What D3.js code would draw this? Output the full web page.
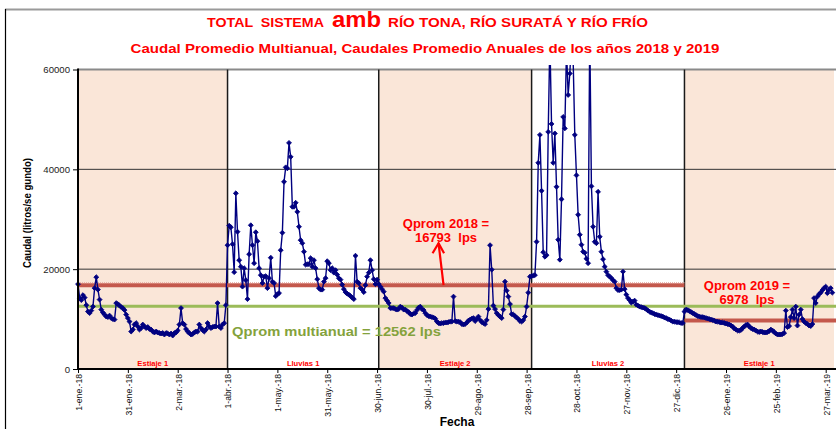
<!DOCTYPE html>
<html><head><meta charset="utf-8">
<script src="https://cdn.jsdelivr.net/npm/d3@7"></script>
<style>
body{margin:0;background:#fff}
svg{display:block}
text{font-family:"Liberation Sans",Arial,sans-serif}
</style>
</head><body>
<svg id="c" width="836" height="429"></svg>
<script>
// ---------------- DATA ----------------
const startDate = "2018-01-01";
const xStart = "2018-01-01", xEnd = "2019-04-01";

// daily flow (litros/segundo), one value per day from 1-ene-18
const estiaje1_2018 = [17000,14200,13800,14800,14300,12800,11500,11200,11700,12500,
16200,18400,15900,13900,11900,11300,10900,10500,10400,10700,
10200,10000,9900,13200,13000,12700,12400,12200,11800,10900,
10200,9500,7500,7900,8900,9200,8500,7900,8200,8900,
8500,8200,8400,8000,7900,7500,7300,7500,7300,7200,
7100,7200,6900,7200,7100,6900,7100,6700,7200,7300,
7700,8900,12200,9200,8900,8000,7500,7200,6900,7000,
7300,7500,7500,8900,8200,7800,7500,7900,9200,8500,
8200,8400,8500,8500,13200,8500,8200,8900,9200,12800];
const lluvias1_2018 = [24800,28700,28400,25000,19400,35200,27500,21800,20500,16500,
20200,17800,14000,23000,28800,24800,21200,27400,25600,20200,
18800,17200,18500,18600,16200,18200,22300,17500,17200,14600,
15000,15200,23800,27300,37500,40400,40200,45300,42500,32500,
32500,33300,31500,28500,25800,25200,23500,20900,21000,21000,
22200,20500,21800,20200,18000,16200,15900,15900,17500,18200,
21600,21200,19800,20200,19300,19800,18900,18200,17900,16900,
16000,15400,15100,14900,14600,14300,14000,22700,17500,17200,
16200,15900,15400,16800,18500,19300,21800,19800,18000,17000];
const estiaje2_2018 = [17900,17000,16500,16000,15500,14200,13700,13200,12200,12200,
12200,12000,11900,12000,12500,12300,11900,11900,11600,11400,
11000,10900,11100,11200,11800,12300,12500,12000,11800,11200,
10800,10600,10500,10400,10300,10100,9500,9200,9100,9200,
9200,9300,9300,9400,9500,9500,14500,9600,9500,9500,
9400,9000,8900,9000,9300,9700,9900,10100,10200,9600,
10000,10500,9800,9400,9200,9000,9800,12000,24800,19900,
12700,12000,11200,10800,10500,10200,11900,17500,15700,14500,
13000,11000,10900,10600,10300,10000,9600,9500,9800,10500,
12500,15300,18500];
const lluvias2_2018 = [18600,18700,18800,25500,41300,46900,35700,
23400,22500,22800,47500,66000,49100,41300,47200,36500,25900,
21900,34000,50500,48200,64000,54900,59200,66000,62000,46900,
38800,30900,26900,24900,23500,23300,22100,21200,68000,36600,
28500,25500,25200,35500,26500,23500,22000,20500,19500,18800,
18500,18200,17800,17500,16200,15800,15800,15900,19500,16000,
14900,14200,13800,13300,13500,13700,12900,12700,12500,12400,
12300,12200,12000,11700,11500,11300,11200,11000,10900,10800,
10700,10600,10500,10300,10200,10000,9900,9700,9500,9500,
9400,9400,9300,9200,9200];
const estiaje1_2019 = [11500,11900,11800,11600,11400,11200,11000,10800,10600,10500,
10400,10400,10300,10200,10100,10000,9900,9800,9700,9500,
9500,9400,9300,9300,9200,9100,9000,8900,8700,8500,
8100,7900,7700,7700,7800,8200,8500,8800,8900,8500,
8200,8000,7900,7700,7500,7400,7500,7400,7300,7300,
7400,7600,7900,7700,7400,7100,6900,6900,6900,7000,
7200,11700,8400,8600,10400,11900,10200,12500,8700,10900,
11900,10000,9500,9200,9000,8700,8600,9000,14200,13200,
14500,15000,15300,15800,16200,16500,15200,15900,16200,15300];

// seasons (bands)
const seasonNames  = ["Estiaje 1","Lluvias 1","Estiaje 2","Lluvias 2","Estiaje 1"];
const seasonStarts = ["2018-01-01","2018-04-01","2018-07-01","2018-10-01","2019-01-01"];
const seasonEnds   = ["2018-04-01","2018-07-01","2018-10-01","2019-01-01","2019-04-01"];
const seasonShaded = [true,false,true,false,true];

// axis ticks
const tickDates = ["2018-01-01","2018-01-31","2018-03-02","2018-04-01","2018-05-01","2018-05-31",
"2018-06-30","2018-07-30","2018-08-29","2018-09-28","2018-10-28","2018-11-27","2018-12-27",
"2019-01-26","2019-02-25","2019-03-27"];
const tickLabels = ["1-ene.-18","31-ene.-18","2-mar.-18","1-abr.-18","1-may.-18","31-may.-18",
"30-jun.-18","30-jul.-18","29-ago.-18","28-sep.-18","28-oct.-18","27-nov.-18","27-dic.-18",
"26-ene.-19","25-feb.-19","27-mar.-19"];
const yTicks = [0,20000,40000,60000];

// reference averages
const qpromMultianual = 12562;
const qprom2018 = 16793;
const qprom2019 = 6978;        // value in label
const qprom2019Drawn = 9700;   // level at which the 2019 line is drawn in the picture
const q2018Range = ["2018-01-01","2019-01-01"];
const q2019Range = ["2019-01-01","2019-04-01"];
// arrow anchor points [date, value]
const arrowFrom = ["2018-08-09", 16793];
const arrowTo   = ["2018-08-06", 25200];

// ---------------- CHART ----------------
const svg = d3.select("#c");
const parse = d3.utcParse("%Y-%m-%d");
const t0 = parse(startDate);
const values = [].concat(estiaje1_2018, lluvias1_2018, estiaje2_2018, lluvias2_2018, estiaje1_2019);
const data = values.map((v,i)=>({date:d3.utcDay.offset(t0,i), v}));

const L=78, R=834, T=69.5, B=369;
const x = d3.scaleUtc().domain([parse(xStart), parse(xEnd)]).range([L,R]);
const y = d3.scaleLinear().domain([0,60000]).range([B,T]);

const RED="#FF0000", LINE_RED="#C4584C", GREEN="#9BBB59", GREEN_TXT="#84A23C", NAVY="#000080";

// outer frame
svg.append("line").attr("x1",5).attr("x2",836).attr("y1",9.5).attr("y2",9.5).attr("stroke","#9a9a9a").attr("stroke-width",2);
svg.append("line").attr("x1",5.5).attr("x2",5.5).attr("y1",9).attr("y2",429).attr("stroke","#000").attr("stroke-width",1.2);

// bands
seasonNames.forEach((n,i)=>{
  if(seasonShaded[i]) svg.append("rect")
    .attr("x",x(parse(seasonStarts[i]))).attr("y",T)
    .attr("width",x(parse(seasonEnds[i]))-x(parse(seasonStarts[i]))).attr("height",B-T)
    .attr("fill","#FAE6D8");
});

// gridlines
yTicks.filter(v=>v>0).forEach(v=>{
  svg.append("line").attr("x1",L).attr("x2",836).attr("y1",y(v)).attr("y2",y(v))
    .attr("stroke", v===60000 ? "#8a8a8a" : "#333").attr("stroke-width", v===60000?2:1);
});

// band boundary lines
seasonStarts.slice(1).forEach(s=>{
  svg.append("line").attr("x1",x(parse(s))).attr("x2",x(parse(s))).attr("y1",T).attr("y2",B)
    .attr("stroke","#1a1a1a").attr("stroke-width",1.5);
});

// reference lines
svg.append("line").attr("x1",L).attr("x2",836).attr("y1",y(qpromMultianual)).attr("y2",y(qpromMultianual))
  .attr("stroke",GREEN).attr("stroke-width",3);
svg.append("line").attr("x1",x(parse(q2018Range[0]))).attr("x2",x(parse(q2018Range[1])))
  .attr("y1",y(qprom2018)).attr("y2",y(qprom2018)).attr("stroke",LINE_RED).attr("stroke-width",4);
svg.append("line").attr("x1",x(parse(q2018Range[0]))).attr("x2",x(parse(q2018Range[1])))
  .attr("y1",y(qprom2018)-2.5).attr("y2",y(qprom2018)-2.5).attr("stroke","#E8A8A0").attr("stroke-width",1).attr("stroke-dasharray","1,1");
svg.append("line").attr("x1",x(parse(q2019Range[0]))).attr("x2",836)
  .attr("y1",y(qprom2019Drawn)).attr("y2",y(qprom2019Drawn)).attr("stroke",LINE_RED).attr("stroke-width",4);

// data
svg.append("clipPath").attr("id","clip").append("rect").attr("x",L-4).attr("y",65).attr("width",836-L+4).attr("height",B-65+4);
const g = svg.append("g").attr("clip-path","url(#clip)");
g.append("path").datum(data)
  .attr("d", d3.line().x(d=>x(d.date)).y(d=>y(d.v)))
  .attr("fill","none").attr("stroke",NAVY).attr("stroke-width",1.4);
const sym = d3.symbol().type(d3.symbolSquare).size(12);
g.selectAll("path.m").data(data).join("path").attr("class","m")
  .attr("d",sym).attr("transform",d=>`translate(${x(d.date)},${y(d.v)}) rotate(45)`)
  .attr("fill",NAVY).attr("stroke",NAVY).attr("stroke-width",0.8);

// axes
const xAxis = svg.append("g").attr("transform",`translate(0,${B})`)
  .call(d3.axisBottom(x).tickValues(tickDates.map(parse)).tickFormat((d,i)=>tickLabels[i]).tickSize(4).tickSizeOuter(0));
xAxis.select(".domain").remove();
xAxis.selectAll(".tick line").attr("stroke","#000");
xAxis.selectAll(".tick text").attr("transform","rotate(-90)").attr("x",-5).attr("y",0).attr("dy","0.4em")
  .style("text-anchor","end").style("font-size","8.6px").attr("fill","#111").attr("font-family","Liberation Sans, Arial, sans-serif");
svg.append("line").attr("x1",L).attr("x2",836).attr("y1",B).attr("y2",B).attr("stroke","#000").attr("stroke-width",2);

const yAxis = svg.append("g").attr("transform",`translate(${L},0)`)
  .call(d3.axisLeft(y).tickValues(yTicks).tickFormat(d3.format("d")).tickSize(5).tickSizeOuter(0));
yAxis.select(".domain").remove();
yAxis.selectAll(".tick line").attr("stroke","#000");
yAxis.selectAll(".tick text").attr("x",-8).style("font-size","9.6px").attr("fill","#222").attr("font-family","Liberation Sans, Arial, sans-serif");
svg.append("line").attr("x1",L).attr("x2",L).attr("y1",T-1).attr("y2",B+1).attr("stroke","#000").attr("stroke-width",2);

// band labels
seasonNames.forEach((n,i)=>{
  svg.append("text").attr("x",(x(parse(seasonStarts[i]))+x(parse(seasonEnds[i])))/2).attr("y",366)
    .attr("text-anchor","middle").attr("font-size","7.6px").attr("font-weight","bold").attr("fill",RED).text(n);
});

// titles (three pieces so widths match the picture)
function piece(txt, x0, w, size){
  svg.append("text").attr("x",x0).attr("y",27).attr("font-weight","bold").attr("fill",RED)
    .attr("font-size",size).attr("textLength",w).attr("lengthAdjust","spacingAndGlyphs")
    .attr("xml:space","preserve").text(txt);
}
piece("TOTAL  SISTEMA", 207, 117, "13.5px");
piece("amb", 332, 49, "22px");
piece("RÍO TONA, RÍO SURATÁ Y RÍO FRÍO", 388, 260, "13.5px");

svg.append("text").attr("x",425).attr("y",53).attr("text-anchor","middle")
  .attr("font-weight","bold").attr("fill",RED).attr("font-size","13px")
  .attr("textLength",589).attr("lengthAdjust","spacingAndGlyphs")
  .text("Caudal Promedio Multianual, Caudales Promedio Anuales de los años 2018 y 2019");

// axis titles
svg.append("text").attr("transform","translate(31,213) rotate(-90)").attr("text-anchor","middle")
  .attr("font-weight","bold").attr("font-size","11px").attr("fill","#000")
  .attr("textLength",110).attr("lengthAdjust","spacingAndGlyphs")
  .text("Caudal (litros/se gundo)");
svg.append("text").attr("x",457).attr("y",426).attr("text-anchor","middle")
  .attr("font-weight","bold").attr("font-size","12px").attr("fill","#000").text("Fecha");

// annotations
function ann(cx, y1, lines, color, size){
  lines.forEach((t,i)=>{
    svg.append("text").attr("x",cx).attr("y",y1+i*13.5).attr("text-anchor","middle")
      .attr("font-weight","bold").attr("font-size",size).attr("fill",color)
      .attr("xml:space","preserve").text(t);
  });
}
ann(446, 228, ["Qprom 2018 =", `${qprom2018}  lps`], RED, "13px");
ann(747, 290, ["Qprom 2019 =", `${qprom2019}  lps`], RED, "13px");
svg.append("text").attr("x",232).attr("y",336).attr("font-weight","bold").attr("font-size","13.5px")
  .attr("fill",GREEN_TXT).attr("textLength",209).attr("lengthAdjust","spacingAndGlyphs")
  .text(`Qprom multianual = ${qpromMultianual} lps`);

// arrow
const ax1=x(parse(arrowFrom[0])), ay1=y(arrowFrom[1]), ax2=x(parse(arrowTo[0])), ay2=y(arrowTo[1]);
svg.append("line").attr("x1",ax1).attr("y1",ay1).attr("x2",ax2).attr("y2",ay2).attr("stroke",RED).attr("stroke-width",2.2);
svg.append("polyline").attr("points",`${ax2-6},${ay2+10} ${ax2},${ay2} ${ax2+5.5},${ay2+10}`)
  .attr("fill","none").attr("stroke",RED).attr("stroke-width",2.2);
</script>
</body></html>
